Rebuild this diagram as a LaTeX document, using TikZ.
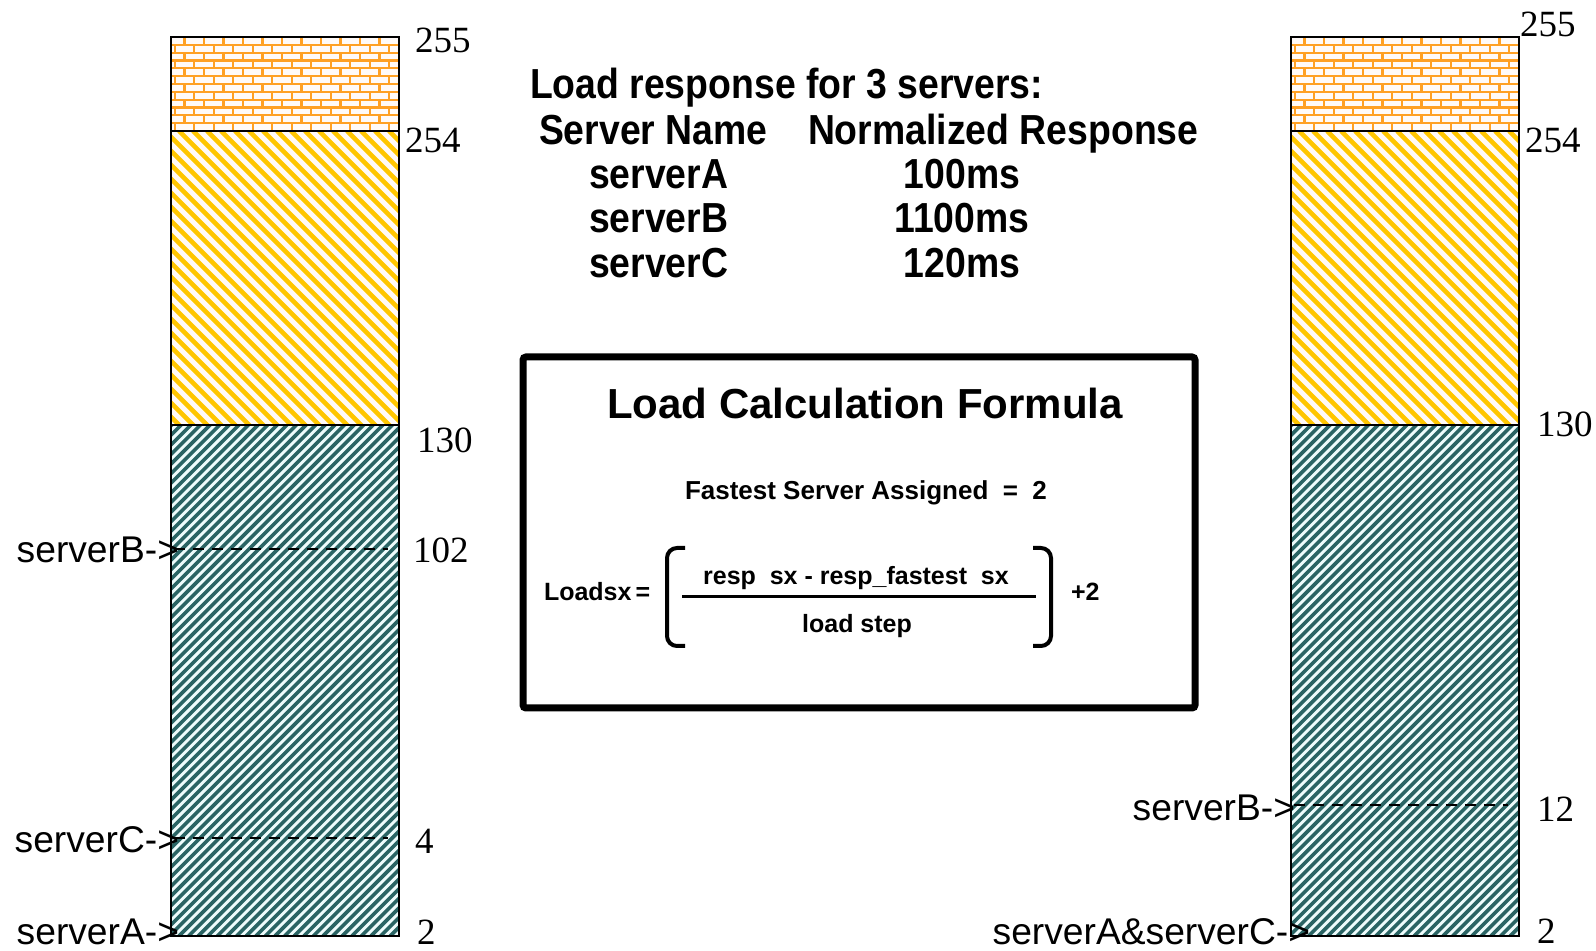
\documentclass[tikz,border=0pt]{standalone}
\usepackage{fontspec}
\setmainfont{Liberation Serif}
\setsansfont{Liberation Sans}
\newfontfamily\hdfont[FakeStretch=0.89]{Liberation Sans}

\definecolor{brickline}{RGB}{255,160,36}
\definecolor{brickbg}{RGB}{255,250,248}
\definecolor{goldline}{RGB}{255,198,0}
\definecolor{goldbg}{RGB}{255,250,248}
\definecolor{tealline}{RGB}{42,100,100}
\definecolor{tealbg}{RGB}{238,252,252}

% One load scale: brick cap, gold band, teal body, outline.
\newcommand\drawloadbar[1]{%
  \begin{scope}
    \clip (#1,37) rectangle ({#1+228},131);
    \fill[brickbg] (#1,37) rectangle ({#1+228},131);
    \foreach \r in {0,...,12}{%
      \pgfmathsetmacro\yy{37+\r*7.83}%
      \pgfmathsetmacro\off{mod(\r,2)*9.75}%
      \draw[brickstroke] (#1,\yy) -- ({#1+228},\yy);
      \foreach \k in {0,...,12}{%
        \draw[brickstroke] ({#1-6+\off+\k*19.5},\yy) -- ++(0,7.83);
      }
    }
  \end{scope}
  \begin{scope}
    \clip (#1,131) rectangle ({#1+228},425);
    \fill[goldbg] (#1,131) rectangle ({#1+228},425);
    \foreach \i in {0,...,40}{%
      \draw[goldstroke] ({#1-300+\i*14},131) -- ++(330,330);
    }
  \end{scope}
  \begin{scope}
    \clip (#1,425) rectangle ({#1+228},936);
    \fill[tealbg] (#1,425) rectangle ({#1+228},936);
    \foreach \i in {0,...,80}{%
      \draw[tealstroke] ({#1-520+\i*9.6},936) -- ++(530,-530);
    }
  \end{scope}
  \draw[barline] (#1,37) rectangle ({#1+228},936);
  \draw[barline] (#1,131) -- ({#1+228},131);
  \draw[barline] (#1,425) -- ({#1+228},425);
}

\begin{document}
\begin{tikzpicture}[x=0.5pt,y=-0.5pt,
  every node/.style={inner sep=0pt, outer sep=0pt},
  brickstroke/.style={brickline, line width=1.1pt},
  goldstroke/.style={goldline, line width=2.3pt},
  tealstroke/.style={tealline, line width=1.8pt},
  barline/.style={black, line width=1.3pt},
  marker/.style={black, dash pattern=on 5.5pt off 4pt, line width=0.8pt},
  scalenum/.style={font=\fontsize{18.5}{20}\selectfont, anchor=base west},
  srvlabel/.style={font=\sffamily\fontsize{18.6}{21}\selectfont, anchor=base east},
  tablefont/.style={font=\hdfont\bfseries\fontsize{21}{24}\selectfont},
  formfont/.style={font=\sffamily\bfseries\fontsize{12.5}{14}\selectfont},
]
\useasboundingbox[fill=white] (0,0) rectangle (1596,951);

% ---- left scale ----
\drawloadbar{171}
\node[scalenum] (l255) at (415,53) {255};
\node[scalenum] (l254) at (405,153) {254};
\node[scalenum] (l130) at (417,453) {130};
\node[scalenum] (l102) at (413,563) {102};
\node[scalenum] (l4)   at (415,853) {4};
\node[scalenum] (l2)   at (417,944) {2};

\coordinate (lBs) at (174,549);
\coordinate (lBe) at (388,549);
\coordinate (lCs) at (174,838);
\coordinate (lCe) at (388,838);
\draw[marker] (lBs) -- (lBe);
\draw[marker] (lCs) -- (lCe);
\node[srvlabel] (lsB) at (179,563) {serverB->};
\node[srvlabel] (lsC) at (179,852) {serverC->};
\node[srvlabel] (lsA) at (179,944) {serverA->};

% ---- right scale ----
\drawloadbar{1291}
\node[scalenum] (r255) at (1520,37) {255};
\node[scalenum] (r254) at (1525,153) {254};
\node[scalenum] (r130) at (1537,437) {130};
\node[scalenum] (r12)  at (1537,821) {12};
\node[scalenum] (r2)   at (1537,943) {2};

\coordinate (rBs) at (1294,805);
\coordinate (rBe) at (1508,805);
\draw[marker] (rBs) -- (rBe);
\node[srvlabel] (rsB)  at (1295,820) {serverB->};
\node[srvlabel] (rsAC) at (1310,944) {serverA\&serverC->};

% ---- response table ----
\node[tablefont, anchor=base west] (thead) at (530,99) {Load response for 3 servers:};
\node[tablefont, anchor=base west] (hname) at (539,145) {Server Name};
\node[tablefont, anchor=base west] (hresp) at (808,145) {Normalized Response};
\node[tablefont, anchor=base west] (nA) at (589,189) {serverA};
\node[tablefont, anchor=base west] (nB) at (589,233) {serverB};
\node[tablefont, anchor=base west] (nC) at (589,278) {serverC};
\node[tablefont, anchor=base] (vA) at (962,189) {100ms};
\node[tablefont, anchor=base] (vB) at (962,233) {1100ms};
\node[tablefont, anchor=base] (vC) at (962,278) {120ms};

% ---- formula box ----
\draw[line width=3.5pt, rounded corners=1.5pt] (523,357) rectangle (1195,708);
\node[font=\sffamily\bfseries\fontsize{21}{24}\selectfont, anchor=base] (ftitle) at (865,419) {Load Calculation Formula};
\node[font=\sffamily\bfseries\fontsize{13}{15}\selectfont, anchor=base] (fast) at (866,500) {Fastest Server Assigned\ \ =\ \ 2};

\node[formfont, anchor=base west] (lhs) at (544,601) {Loadsx\,=};
\node[formfont, anchor=base] (num) at (856,585) {resp\ \ sx - resp\_fastest\ \ sx};
\node[formfont, anchor=base] (den) at (857,633) {load step};
\node[formfont, anchor=base west] (plus) at (1071,601) {+2};
\coordinate (fracL) at (682,597);
\coordinate (fracR) at (1036,597);
\draw[line width=1.5pt] (fracL) -- (fracR);
\draw[line width=2pt, rounded corners=5pt] (685,548) -- (667,548) -- (667,646) -- (685,646);
\draw[line width=2pt, rounded corners=5pt] (1033,548) -- (1051,548) -- (1051,646) -- (1033,646);
\end{tikzpicture}
\end{document}
